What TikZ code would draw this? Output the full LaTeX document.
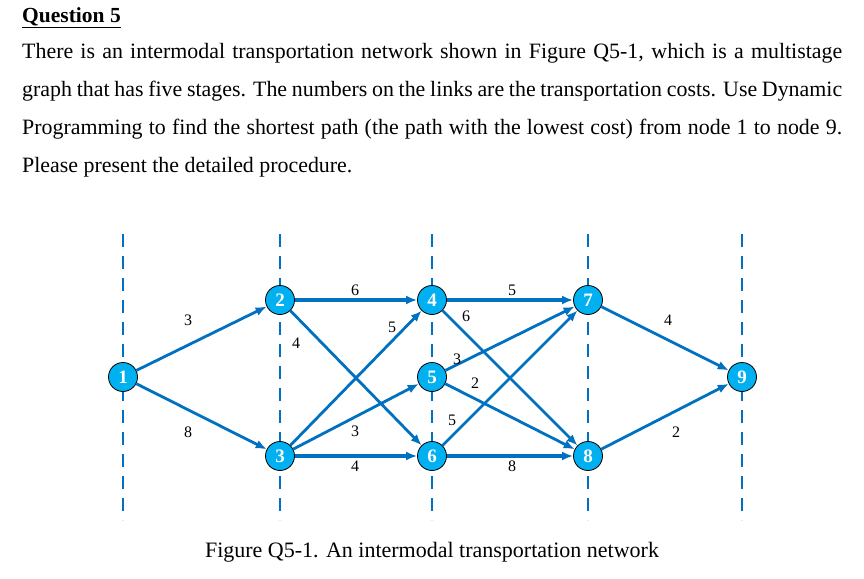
\documentclass[tikz,border=0pt]{standalone}
\usepackage{fontspec}
\setmainfont{Liberation Serif}
\usetikzlibrary{arrows.meta}
\definecolor{eblue}{RGB}{0,112,192}
\definecolor{nfill}{RGB}{0,176,240}
\begin{document}
\begin{tikzpicture}[x=1pt,y=-1pt,
  nd/.style={circle,draw=black,line width=0.8pt,fill=nfill,text=white,font=\fontsize{19}{19}\selectfont\bfseries,minimum size=29pt,inner sep=0pt},
  ed/.style={draw=eblue,line width=2.8pt,-{Latex[length=11pt,width=9pt]}},
  thk/.style={line width=3.8pt},
  stg/.style={draw=eblue,line width=2.6pt,dash pattern=on 13pt off 9pt},
  lb/.style={font=\fontsize{16}{16}\selectfont}]
\useasboundingbox (0,0) rectangle (864,578);
\node[anchor=north west,inner sep=0pt,font=\fontsize{21.5}{21.5}\selectfont\bfseries] (t) at (22,7) {\underline{Question 5}};
\node[anchor=north west,inner sep=0pt,text width=820pt,align=justify,font=\fontsize{21.9}{38}\selectfont] (p) at (22,43) {There is an intermodal transportation network shown in Figure Q5-1, which is a multistage\linebreak graph that has five stages. The numbers on the links are the transportation costs. Use Dynamic\linebreak Programming to find the shortest path (the path with the lowest cost) from node 1 to node 9.\linebreak Please present the detailed procedure.};
\foreach \x/\n in {123/a,280/b,432/c,588/d,742/e}{\coordinate (\n1) at (\x,234); \coordinate (\n2) at (\x,520); \draw[stg] (\n1) -- (\n2);}
\node[nd] (1) at (123,377) {1};
\node[nd] (2) at (280,300) {2};
\node[nd] (3) at (280,456) {3};
\node[nd] (4) at (432,300) {4};
\node[nd] (5) at (432,377) {5};
\node[nd] (6) at (432,456) {6};
\node[nd] (7) at (588,300) {7};
\node[nd] (8) at (588,456) {8};
\node[nd] (9) at (742,377) {9};
\draw[ed] (1) -- (2); \draw[ed] (1) -- (3);
\draw[ed,thk] (2) -- (4); \draw[ed] (2) -- (6);
\draw[ed] (3) -- (4); \draw[ed] (3) -- (5); \draw[ed,thk] (3) -- (6);
\draw[ed,thk] (4) -- (7); \draw[ed] (4) -- (8);
\draw[ed] (5) -- (7); \draw[ed] (5) -- (8);
\draw[ed] (6) -- (7); \draw[ed,thk] (6) -- (8);
\draw[ed] (7) -- (9); \draw[ed] (8) -- (9);
\foreach \x/\y/\t in {188/320/3,188/432/8,355/290/6,296/343/4,392/327/5,355/431/3,355/466/4,512/290/5,466/316/6,457/359/3,475/383/2,452/420/5,512/466/8,668/320/4,676/432/2}
  \node[lb] (l\x\y) at (\x,\y) {\t};
\node[font=\fontsize{22}{22}\selectfont] (cap) at (432,552) {Figure Q5-1. An intermodal transportation network};
\end{tikzpicture}
\end{document}
